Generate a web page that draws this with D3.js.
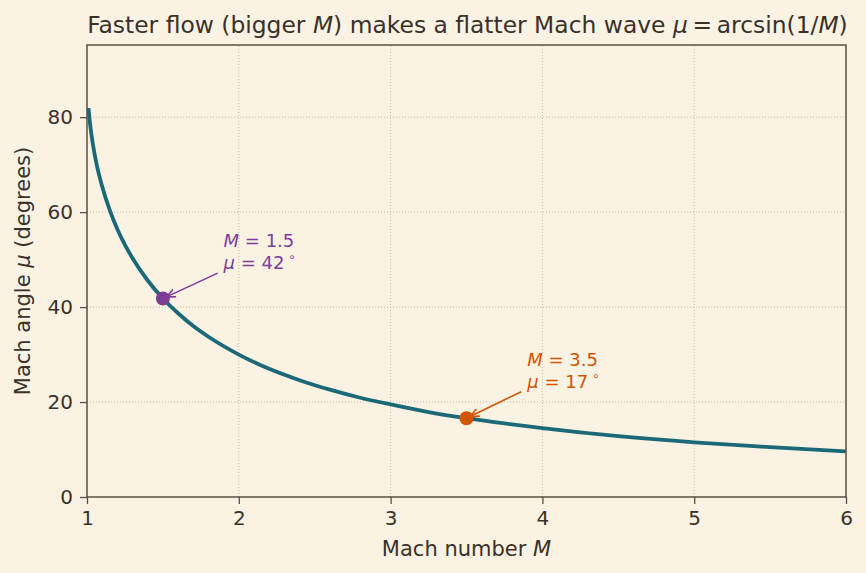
<!DOCTYPE html>
<html><head><meta charset="utf-8">
<script src="https://cdn.jsdelivr.net/npm/d3@7"></script>
<style>
body{margin:0;background:#faf3e3;}
text{font-family:"DejaVu Sans",sans-serif;}
</style></head>
<body><svg id="c" width="866" height="573"></svg>
<script>
const machNumbers = [1.01,1.02,1.04,1.06,1.08,1.1,1.15,1.2,1.25,1.3,1.4,1.5,1.6,1.7,1.8,2.0,2.2,2.4,2.6,2.8,3.0,3.25,3.5,3.75,4.0,4.5,5.0,5.5,6.0];
const machAngles = [81.9,78.6,74.1,70.6,67.8,65.4,60.4,56.4,53.1,50.3,45.6,41.8,38.7,36.0,33.75,30.0,27.0,24.6,22.6,20.9,19.5,17.9,16.6,15.5,14.5,12.8,11.5,10.5,9.6];
const xTicks = [1,2,3,4,5,6];
const yTicks = [0,20,40,60,80];
const highlightM = [1.5, 3.5];
const highlightMu = [41.8, 16.6];
const highlightLabelMu = ["42", "17"];
const labelM = [1.9, 3.9];
const labelMu = [48, 23];
const highlightColors = ["#7d3c98", "#d35400"];

const svg = d3.select("#c");
const W = 866, H = 573;
const m = {l:87, r:20, t:45, b:76};
const x = d3.scaleLinear().domain([1,6]).range([m.l, W-m.r]);
const y = d3.scaleLinear().domain([0,95.2]).range([H-m.b, m.t]);
const ink = "#3a3128", spine = "#5a4f42";

svg.append("rect").attr("width",W).attr("height",H).attr("fill","#faf3e3");

// grid
const g = svg.append("g");
g.selectAll(".gx").data(xTicks.slice(1,-1)).join("line")
  .attr("x1",d=>x(d)).attr("x2",d=>x(d)).attr("y1",y(0)).attr("y2",m.t)
  .attr("stroke","#b5ada0").attr("stroke-width",0.8).attr("stroke-dasharray","1,2");
g.selectAll(".gy").data(yTicks.slice(1)).join("line")
  .attr("x1",m.l).attr("x2",W-m.r).attr("y1",d=>y(d)).attr("y2",d=>y(d))
  .attr("stroke","#b5ada0").attr("stroke-width",0.8).attr("stroke-dasharray","1,2");

// curve
const pts = machNumbers.map((d,i)=>[d, machAngles[i]]);
svg.append("path").datum(pts)
  .attr("d", d3.line().x(d=>x(d[0])).y(d=>y(d[1])).curve(d3.curveMonotoneX))
  .attr("fill","none").attr("stroke","#1b6878").attr("stroke-width",3.8);

// axes
const xAxis = svg.append("g").attr("transform",`translate(0,${y(0)})`)
  .call(d3.axisBottom(x).tickValues(xTicks).tickFormat(d3.format("d")).tickSize(7).tickPadding(7));
const yAxis = svg.append("g").attr("transform",`translate(${m.l},0)`)
  .call(d3.axisLeft(y).tickValues(yTicks).tickSize(7).tickPadding(7));
[xAxis,yAxis].forEach(a=>{
  a.select(".domain").remove();
  a.selectAll("line").attr("stroke",spine).attr("stroke-width",1.3);
  a.selectAll("text").attr("fill",ink).style("font-size","20px");
});
svg.append("rect").attr("x",m.l).attr("y",m.t).attr("width",W-m.r-m.l).attr("height",y(0)-m.t)
  .attr("fill","none").attr("stroke",spine).attr("stroke-width",1.5);

// defs for arrowheads
const defs = svg.append("defs");
highlightColors.forEach((c,i)=>{
  defs.append("marker").attr("id","ah"+i).attr("viewBox","0 0 10 10").attr("refX",9).attr("refY",5)
    .attr("markerWidth",10).attr("markerHeight",10).attr("markerUnits","userSpaceOnUse").attr("orient","auto")
    .append("path").attr("d","M0,1 L9,5 L0,9").attr("fill","none").attr("stroke",c).attr("stroke-width",1.6);
});

highlightM.forEach((mv,i)=>{
  const c = highlightColors[i];
  const px = x(mv), py = y(highlightMu[i]);
  const tx = x(labelM[i]), ty = y(labelMu[i]);
  const sx = tx - 6, sy = ty + 4;
  const dx = px - sx, dy = py - sy, L = Math.hypot(dx,dy);
  const ex = px - dx/L*4, ey = py - dy/L*4;
  svg.append("line").attr("x1",sx).attr("y1",sy).attr("x2",ex).attr("y2",ey)
    .attr("stroke",c).attr("stroke-width",1.6).attr("marker-end",`url(#ah${i})`);
  svg.append("circle").attr("cx",px).attr("cy",py).attr("r",7).attr("fill",c);
  const t1 = svg.append("text").attr("x",tx).attr("y",ty-22).attr("fill",c).style("font-size","18px");
  t1.append("tspan").style("font-style","italic").text("M");
  t1.append("tspan").text(" = " + mv.toFixed(1));
  const t2 = svg.append("text").attr("x",tx).attr("y",ty).attr("fill",c).style("font-size","18px");
  t2.append("tspan").style("font-style","italic").text("μ");
  t2.append("tspan").text(" = " + highlightLabelMu[i]);
  t2.append("tspan").attr("dy",-8).style("font-size","12px").text(" ∘");
});

// title
const title = svg.append("text").attr("x",(m.l+W-m.r)/2 + 1).attr("y",33).attr("text-anchor","middle")
  .attr("fill",ink).style("font-size","23.4px");
title.append("tspan").text("Faster flow (bigger ");
title.append("tspan").style("font-style","italic").text("M");
title.append("tspan").text(") makes a flatter Mach wave ");
title.append("tspan").style("font-style","italic").text("μ");
title.append("tspan").text("\u2009=\u2009arcsin(1/");
title.append("tspan").style("font-style","italic").text("M");
title.append("tspan").text(")");

// axis labels
const xl = svg.append("text").attr("x",(m.l+W-m.r)/2).attr("y",556).attr("text-anchor","middle")
  .attr("fill",ink).style("font-size","21px");
xl.append("tspan").text("Mach number ");
xl.append("tspan").style("font-style","italic").text("M");
const yl = svg.append("text").attr("transform",`translate(30,${(m.t+y(0))/2}) rotate(-90)`).attr("text-anchor","middle")
  .attr("fill",ink).style("font-size","21px");
yl.append("tspan").text("Mach angle ");
yl.append("tspan").style("font-style","italic").text("μ");
yl.append("tspan").text(" (degrees)");
</script></body></html>
